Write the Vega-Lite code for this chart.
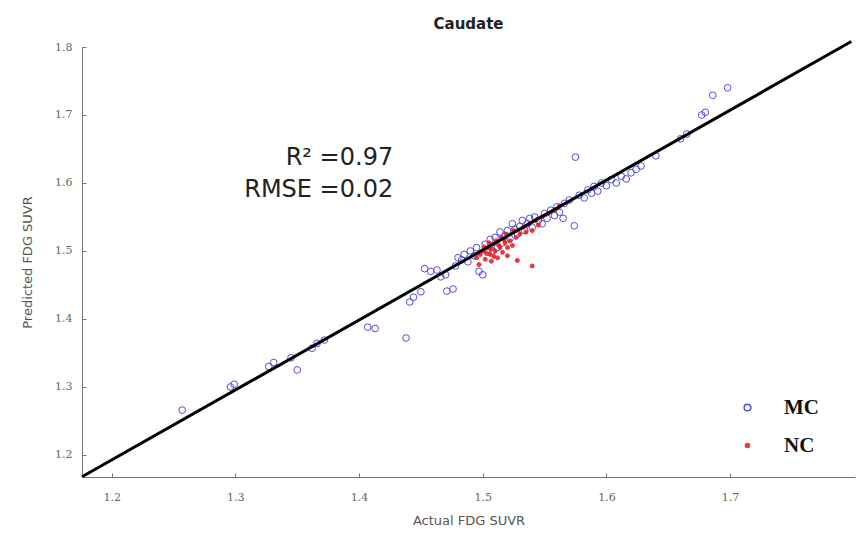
{
  "$schema": "https://vega.github.io/schema/vega-lite/v6.json",
  "width": 773,
  "height": 430,
  "autosize": {"type": "none"},
  "padding": {"left": 82, "top": 47, "right": 5, "bottom": 64},
  "background": "white",
  "title": {"text": "Caudate", "fontSize": 15, "fontWeight": "bold", "font": "DejaVu Sans", "color": "#222222", "offset": 4, "anchor": "middle", "frame": "group"},
  "config": {
    "view": {"stroke": null},
    "axis": {"grid": false, "domainColor": "#777777", "tickColor": "#777777", "labelColor": "#666666", "titleColor": "#555555", "labelFont": "DejaVu Serif", "labelFontSize": 11, "titleFont": "DejaVu Sans", "titleFontSize": 13, "titleFontWeight": "normal", "tickSize": -4}
  },
  "datasets": {
    "pts": [
      {"group": "MC", "actual": 1.257, "predicted": 1.266},
      {"group": "MC", "actual": 1.296, "predicted": 1.300},
      {"group": "MC", "actual": 1.299, "predicted": 1.304},
      {"group": "MC", "actual": 1.327, "predicted": 1.330},
      {"group": "MC", "actual": 1.331, "predicted": 1.336},
      {"group": "MC", "actual": 1.345, "predicted": 1.343},
      {"group": "MC", "actual": 1.350, "predicted": 1.325},
      {"group": "MC", "actual": 1.362, "predicted": 1.357},
      {"group": "MC", "actual": 1.366, "predicted": 1.364},
      {"group": "MC", "actual": 1.372, "predicted": 1.369},
      {"group": "MC", "actual": 1.407, "predicted": 1.388},
      {"group": "MC", "actual": 1.413, "predicted": 1.386},
      {"group": "MC", "actual": 1.438, "predicted": 1.372},
      {"group": "MC", "actual": 1.441, "predicted": 1.425},
      {"group": "MC", "actual": 1.444, "predicted": 1.432},
      {"group": "MC", "actual": 1.450, "predicted": 1.440},
      {"group": "MC", "actual": 1.453, "predicted": 1.474},
      {"group": "MC", "actual": 1.458, "predicted": 1.470},
      {"group": "MC", "actual": 1.463, "predicted": 1.472},
      {"group": "MC", "actual": 1.466, "predicted": 1.462},
      {"group": "MC", "actual": 1.470, "predicted": 1.465},
      {"group": "MC", "actual": 1.471, "predicted": 1.441},
      {"group": "MC", "actual": 1.476, "predicted": 1.444},
      {"group": "MC", "actual": 1.478, "predicted": 1.478},
      {"group": "MC", "actual": 1.480, "predicted": 1.490},
      {"group": "MC", "actual": 1.483, "predicted": 1.487},
      {"group": "MC", "actual": 1.485, "predicted": 1.495},
      {"group": "MC", "actual": 1.488, "predicted": 1.484},
      {"group": "MC", "actual": 1.490, "predicted": 1.500},
      {"group": "MC", "actual": 1.493, "predicted": 1.493},
      {"group": "MC", "actual": 1.495, "predicted": 1.505},
      {"group": "MC", "actual": 1.497, "predicted": 1.470},
      {"group": "MC", "actual": 1.500, "predicted": 1.465},
      {"group": "MC", "actual": 1.502, "predicted": 1.510},
      {"group": "MC", "actual": 1.504, "predicted": 1.498},
      {"group": "MC", "actual": 1.506, "predicted": 1.517},
      {"group": "MC", "actual": 1.508, "predicted": 1.500},
      {"group": "MC", "actual": 1.510, "predicted": 1.520},
      {"group": "MC", "actual": 1.512, "predicted": 1.505},
      {"group": "MC", "actual": 1.514, "predicted": 1.528},
      {"group": "MC", "actual": 1.516, "predicted": 1.512},
      {"group": "MC", "actual": 1.518, "predicted": 1.522},
      {"group": "MC", "actual": 1.520, "predicted": 1.530},
      {"group": "MC", "actual": 1.522, "predicted": 1.518},
      {"group": "MC", "actual": 1.524, "predicted": 1.540},
      {"group": "MC", "actual": 1.526, "predicted": 1.532},
      {"group": "MC", "actual": 1.528, "predicted": 1.525},
      {"group": "MC", "actual": 1.530, "predicted": 1.536},
      {"group": "MC", "actual": 1.532, "predicted": 1.545},
      {"group": "MC", "actual": 1.534, "predicted": 1.530},
      {"group": "MC", "actual": 1.536, "predicted": 1.540},
      {"group": "MC", "actual": 1.538, "predicted": 1.548},
      {"group": "MC", "actual": 1.540, "predicted": 1.535},
      {"group": "MC", "actual": 1.542, "predicted": 1.550},
      {"group": "MC", "actual": 1.545, "predicted": 1.545},
      {"group": "MC", "actual": 1.548, "predicted": 1.540},
      {"group": "MC", "actual": 1.550, "predicted": 1.555},
      {"group": "MC", "actual": 1.552, "predicted": 1.548},
      {"group": "MC", "actual": 1.555, "predicted": 1.560},
      {"group": "MC", "actual": 1.558, "predicted": 1.552},
      {"group": "MC", "actual": 1.560, "predicted": 1.565},
      {"group": "MC", "actual": 1.562, "predicted": 1.557},
      {"group": "MC", "actual": 1.565, "predicted": 1.548},
      {"group": "MC", "actual": 1.566, "predicted": 1.570},
      {"group": "MC", "actual": 1.570, "predicted": 1.575},
      {"group": "MC", "actual": 1.574, "predicted": 1.537},
      {"group": "MC", "actual": 1.575, "predicted": 1.638},
      {"group": "MC", "actual": 1.578, "predicted": 1.582},
      {"group": "MC", "actual": 1.582, "predicted": 1.578},
      {"group": "MC", "actual": 1.585, "predicted": 1.590},
      {"group": "MC", "actual": 1.588, "predicted": 1.585},
      {"group": "MC", "actual": 1.590, "predicted": 1.595},
      {"group": "MC", "actual": 1.593, "predicted": 1.588},
      {"group": "MC", "actual": 1.596, "predicted": 1.600},
      {"group": "MC", "actual": 1.600, "predicted": 1.596},
      {"group": "MC", "actual": 1.604, "predicted": 1.605},
      {"group": "MC", "actual": 1.608, "predicted": 1.600},
      {"group": "MC", "actual": 1.612, "predicted": 1.610},
      {"group": "MC", "actual": 1.616, "predicted": 1.606},
      {"group": "MC", "actual": 1.620, "predicted": 1.615},
      {"group": "MC", "actual": 1.624, "predicted": 1.620},
      {"group": "MC", "actual": 1.628, "predicted": 1.625},
      {"group": "MC", "actual": 1.640, "predicted": 1.640},
      {"group": "MC", "actual": 1.660, "predicted": 1.665},
      {"group": "MC", "actual": 1.665, "predicted": 1.672},
      {"group": "MC", "actual": 1.677, "predicted": 1.700},
      {"group": "MC", "actual": 1.680, "predicted": 1.704},
      {"group": "MC", "actual": 1.686, "predicted": 1.729},
      {"group": "MC", "actual": 1.698, "predicted": 1.740},
      {"group": "NC", "actual": 1.495, "predicted": 1.490},
      {"group": "NC", "actual": 1.498, "predicted": 1.495},
      {"group": "NC", "actual": 1.500, "predicted": 1.500},
      {"group": "NC", "actual": 1.501, "predicted": 1.506},
      {"group": "NC", "actual": 1.502, "predicted": 1.488},
      {"group": "NC", "actual": 1.503, "predicted": 1.497},
      {"group": "NC", "actual": 1.504, "predicted": 1.505},
      {"group": "NC", "actual": 1.505, "predicted": 1.512},
      {"group": "NC", "actual": 1.506, "predicted": 1.495},
      {"group": "NC", "actual": 1.507, "predicted": 1.503},
      {"group": "NC", "actual": 1.508, "predicted": 1.510},
      {"group": "NC", "actual": 1.509, "predicted": 1.492},
      {"group": "NC", "actual": 1.510, "predicted": 1.500},
      {"group": "NC", "actual": 1.511, "predicted": 1.515},
      {"group": "NC", "actual": 1.512, "predicted": 1.490},
      {"group": "NC", "actual": 1.513, "predicted": 1.508},
      {"group": "NC", "actual": 1.514, "predicted": 1.505},
      {"group": "NC", "actual": 1.515, "predicted": 1.520},
      {"group": "NC", "actual": 1.516, "predicted": 1.498},
      {"group": "NC", "actual": 1.517, "predicted": 1.517},
      {"group": "NC", "actual": 1.518, "predicted": 1.512},
      {"group": "NC", "actual": 1.519, "predicted": 1.525},
      {"group": "NC", "actual": 1.520, "predicted": 1.505},
      {"group": "NC", "actual": 1.522, "predicted": 1.515},
      {"group": "NC", "actual": 1.524, "predicted": 1.508},
      {"group": "NC", "actual": 1.525, "predicted": 1.530},
      {"group": "NC", "actual": 1.527, "predicted": 1.520},
      {"group": "NC", "actual": 1.530, "predicted": 1.525},
      {"group": "NC", "actual": 1.533, "predicted": 1.535},
      {"group": "NC", "actual": 1.535, "predicted": 1.528},
      {"group": "NC", "actual": 1.538, "predicted": 1.540},
      {"group": "NC", "actual": 1.540, "predicted": 1.530},
      {"group": "NC", "actual": 1.543, "predicted": 1.545},
      {"group": "NC", "actual": 1.545, "predicted": 1.538},
      {"group": "NC", "actual": 1.548, "predicted": 1.550},
      {"group": "NC", "actual": 1.553, "predicted": 1.555},
      {"group": "NC", "actual": 1.558, "predicted": 1.560},
      {"group": "NC", "actual": 1.562, "predicted": 1.566},
      {"group": "NC", "actual": 1.540, "predicted": 1.478},
      {"group": "NC", "actual": 1.528, "predicted": 1.486},
      {"group": "NC", "actual": 1.520, "predicted": 1.493},
      {"group": "NC", "actual": 1.507, "predicted": 1.485},
      {"group": "NC", "actual": 1.497, "predicted": 1.480}
    ],
    "fit": [
      {"actual": 1.176, "predicted": 1.168},
      {"actual": 1.798, "predicted": 1.808}
    ],
    "notes": [
      {"label": "R² =0.97", "actual": 1.4276, "predicted": 1.627},
      {"label": "RMSE =0.02", "actual": 1.4276, "predicted": 1.580}
    ]
  },
  "layer": [
    {
      "data": {"name": "pts"},
      "mark": {"type": "point", "strokeWidth": 1, "opacity": 0.9},
      "encoding": {
        "x": {"field": "actual", "type": "quantitative", "scale": {"domain": [1.176, 1.801], "nice": false, "zero": false},
          "axis": {"title": "Actual FDG SUVR", "values": [1.2, 1.3, 1.4, 1.5, 1.6, 1.7], "format": ".1f", "labelPadding": 18, "titlePadding": 12}},
        "y": {"field": "predicted", "type": "quantitative", "scale": {"domain": [1.1676, 1.8], "nice": false, "zero": false},
          "axis": {"title": "Predicted FDG SUVR", "values": [1.2, 1.3, 1.4, 1.5, 1.6, 1.7, 1.8], "format": ".1f", "labelPadding": 14, "titlePadding": 20}},
        "stroke": {"field": "group", "type": "nominal", "scale": {"domain": ["MC", "NC"], "range": ["#3d3dd6", "#e8222a"]},
          "legend": {"title": null, "orient": "none", "legendX": 655, "legendY": 350, "labelFont": "Liberation Serif", "labelFontWeight": "bold", "labelFontSize": 21, "labelColor": "#111111", "rowPadding": 16, "labelOffset": 26, "padding": 0}},
        "fill": {"field": "group", "type": "nominal", "scale": {"domain": ["MC", "NC"], "range": ["transparent", "#e8222a"]}},
        "size": {"field": "group", "type": "nominal", "scale": {"domain": ["MC", "NC"], "range": [45, 16]}}
      }
    },
    {
      "data": {"name": "fit"},
      "mark": {"type": "line", "color": "#000000", "strokeWidth": 3},
      "encoding": {
        "x": {"field": "actual", "type": "quantitative"},
        "y": {"field": "predicted", "type": "quantitative"}
      }
    },
    {
      "data": {"name": "notes"},
      "mark": {"type": "text", "align": "right", "baseline": "alphabetic", "font": "DejaVu Sans", "fontSize": 24, "color": "#222222"},
      "encoding": {
        "x": {"field": "actual", "type": "quantitative"},
        "y": {"field": "predicted", "type": "quantitative"},
        "text": {"field": "label"}
      }
    }
  ]
}
